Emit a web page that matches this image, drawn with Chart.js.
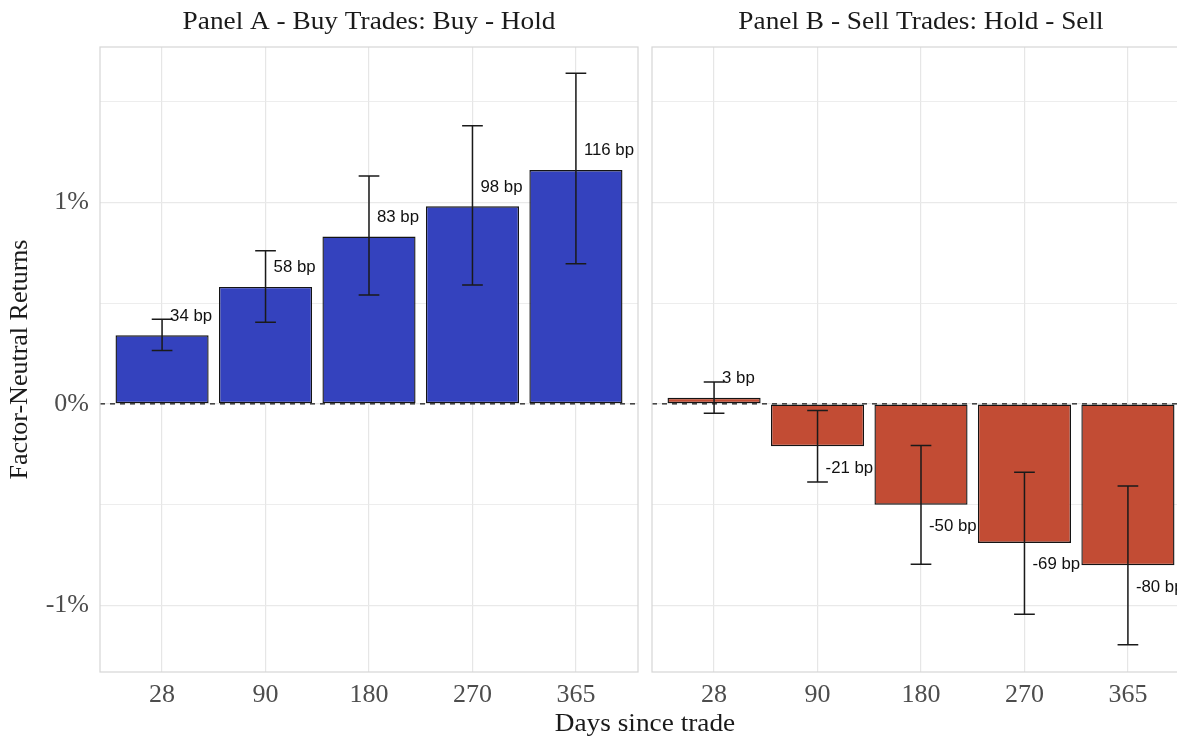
<!DOCTYPE html>
<html>
<head>
<meta charset="utf-8">
<script src="https://cdn.jsdelivr.net/npm/chart.js@4.4.1/dist/chart.umd.min.js"></script>
<style>
  html, body { margin: 0; padding: 0; background: #fff; overflow: hidden; width: 1177px; height: 738px; }
  #wrap { position: relative; width: 1177px; height: 738px; overflow: hidden; }
  #buyChart { position: absolute; left: 0; top: 0; }
  #sellChart { position: absolute; left: 645px; top: 0; }
  #xTitle { position: absolute; left: 0; width: 1290px; top: 708px; text-align: center;
            font: 26px 'Liberation Serif', 'Times New Roman', serif; color: #1a1a1a; white-space: nowrap;
            transform: scaleX(1.05); transform-origin: 645px 0; }
</style>
</head>
<body>
<div id="wrap">
  <canvas id="buyChart" width="645" height="738"></canvas>
  <canvas id="sellChart" width="560" height="738"></canvas>
  <div id="xTitle">Days since trade</div>
</div>
<script>
// Holding periods (days since trade)
const days = ['28', '90', '180', '270', '365'];

// Panel A: buy trades, buy minus hold (basis points) with confidence bounds
const buyBp   = [34, 58, 83, 98, 116];
const buyLow  = [26.5, 40.5, 54, 59, 69.5];
const buyHigh = [42, 76, 113, 138, 164];

// Panel B: sell trades, hold minus sell (basis points) with confidence bounds
const sellBp   = [3, -21, -50, -69, -80];
const sellLow  = [-4.6, -38.7, -79.6, -104.4, -119.5];
const sellHigh = [10.8, -3.3, -20.7, -33.9, -40.8];

// Y range (bp) and labelled percentage ticks
const yMin = -133, yMax = 177;
const yLabelled = [-100, 0, 100];

const panelTitles = ['Panel A - Buy Trades: Buy - Hold', 'Panel B - Sell Trades: Hold - Sell'];

const SERIF = "'Liberation Serif', 'Times New Roman', serif";
const SANS = "'Liberation Sans', Arial, sans-serif";
const TEXT_STRETCH = 1.05;

// Text drawn slightly wider than the font's natural proportions
function stretchedText(ctx, text, x, y) {
  ctx.save();
  ctx.translate(x, y);
  ctx.scale(TEXT_STRETCH, 1);
  ctx.fillText(text, 0, 0);
  ctx.restore();
}

// Panel frame, zero reference line, error bars, value labels and strip title
const facetPlugin = {
  id: 'facet',
  beforeDatasetsDraw(chart) {
    const { ctx, chartArea: a, scales: { y } } = chart;
    const y0 = y.getPixelForValue(0);
    ctx.save();
    ctx.strokeStyle = '#111';
    ctx.lineWidth = 1.2;
    ctx.setLineDash([5, 5]);
    ctx.beginPath();
    ctx.moveTo(a.left, y0);
    ctx.lineTo(a.right, y0);
    ctx.stroke();
    ctx.restore();
  },
  afterDatasetsDraw(chart, args, opts) {
    const { ctx, scales: { x, y } } = chart;
    const half = x.getPixelForValue(0.1) - x.getPixelForValue(0);
    ctx.save();
    ctx.strokeStyle = '#1a1a1a';
    ctx.lineWidth = 1.5;
    opts.values.forEach((v, i) => {
      const cx = x.getPixelForValue(i);
      const yl = y.getPixelForValue(opts.low[i]);
      const yh = y.getPixelForValue(opts.high[i]);
      ctx.beginPath();
      ctx.moveTo(cx, yl); ctx.lineTo(cx, yh);
      ctx.moveTo(cx - half, yl); ctx.lineTo(cx + half, yl);
      ctx.moveTo(cx - half, yh); ctx.lineTo(cx + half, yh);
      ctx.stroke();
    });
    ctx.fillStyle = '#111';
    ctx.font = '16px ' + SANS;
    ctx.textAlign = 'left';
    ctx.textBaseline = 'middle';
    opts.values.forEach((v, i) => {
      const cx = x.getPixelForValue(i);
      const yb = y.getPixelForValue(v);
      const ty = v >= 0 ? yb - 19 : yb + 22;
      stretchedText(ctx, v + ' bp', cx + 8, ty);
    });
    ctx.restore();
  },
  afterDraw(chart, args, opts) {
    const { ctx, chartArea: a } = chart;
    ctx.save();
    ctx.strokeStyle = '#d6d6d6';
    ctx.lineWidth = 1.2;
    ctx.strokeRect(a.left, a.top, a.right - a.left, a.bottom - a.top);
    ctx.fillStyle = '#1a1a1a';
    ctx.font = '26px ' + SERIF;
    ctx.textAlign = 'center';
    ctx.textBaseline = 'middle';
    stretchedText(ctx, opts.title, (a.left + a.right) / 2, 22);
    ctx.restore();
  }
};

function makeConfig(values, low, high, fill, title, showY, pad) {
  return {
    type: 'bar',
    data: {
      datasets: [{
        data: values.map((v, i) => ({ x: i, y: v })),
        backgroundColor: fill,
        borderColor: '#141414',
        borderWidth: 1.4,
        borderSkipped: false,
        categoryPercentage: 1,
        barPercentage: 0.9
      }]
    },
    options: {
      responsive: false,
      animation: false,
      layout: { padding: pad },
      plugins: {
        legend: { display: false },
        tooltip: { enabled: false },
        facet: { values, low, high, title }
      },
      scales: {
        x: {
          type: 'linear',
          offset: false,
          min: -0.6,
          max: 4.6,
          afterFit: s => { s.height = 66; },
          border: { display: false },
          grid: { offset: false, color: '#e6e6e6', lineWidth: 1.2, drawTicks: false },
          ticks: {
            stepSize: 1,
            includeBounds: false,
            padding: 8,
            color: '#4d4d4d',
            font: { family: SERIF, size: 26 },
            callback: v => (Number.isInteger(v) && days[v] !== undefined) ? days[v] : ''
          }
        },
        y: {
          min: yMin,
          max: yMax,
          afterFit: s => { s.width = showY ? 100 : 0; },
          border: { display: false },
          grid: {
            drawTicks: false,
            color: '#e9e9e9',
            lineWidth: c => (c.tick && c.tick.value % 100 === 0) ? 1.3 : 0.8
          },
          ticks: {
            display: showY,
            stepSize: 50,
            includeBounds: false,
            padding: 11,
            color: '#4d4d4d',
            font: { family: SERIF, size: 26 },
            callback: v => yLabelled.includes(v) ? (v / 100) + '%' : ''
          },
          title: {
            display: showY,
            text: 'Factor-Neutral Returns',
            color: '#1a1a1a',
            font: { family: SERIF, size: 26 },
            padding: { top: 5, bottom: 0 }
          }
        }
      }
    },
    plugins: [facetPlugin]
  };
}

new Chart(document.getElementById('buyChart'),
  makeConfig(buyBp, buyLow, buyHigh, '#3442be', panelTitles[0], true,
    { top: 47, left: 0, right: 7, bottom: 0 }));

new Chart(document.getElementById('sellChart'),
  makeConfig(sellBp, sellLow, sellHigh, '#c24c34', panelTitles[1], false,
    { top: 47, left: 7, right: 15, bottom: 0 }));
</script>
</body>
</html>
